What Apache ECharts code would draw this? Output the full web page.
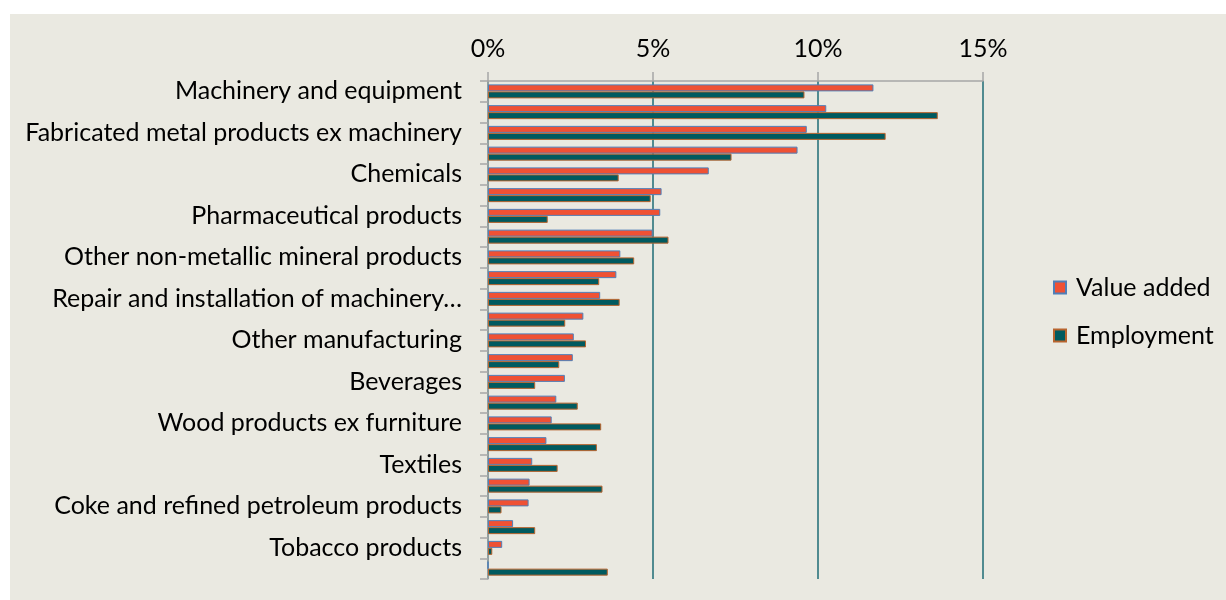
<!DOCTYPE html>
<html>
<head>
<meta charset="utf-8">
<script src="https://cdn.jsdelivr.net/npm/echarts@6/dist/echarts.min.js"></script>
<style>
  html, body { margin: 0; padding: 0; background: #fff; }
  #chart { position: absolute; left: 10px; top: 14px; width: 1216px; height: 586px; }
</style>
</head>
<body>
<div id="chart"></div>
<script>
// categories top to bottom; only every other one is labelled in the original
const categories = [
  "Machinery and equipment",
  "Food products",
  "Fabricated metal products ex machinery",
  "Motor vehicles",
  "Chemicals",
  "Electrical equipment",
  "Pharmaceutical products",
  "Rubber and plastics products",
  "Other non-metallic mineral products",
  "Computer, electronic and optical products",
  "Repair and installation of machinery and equipment",
  "Basic metals",
  "Other manufacturing",
  "Paper products",
  "Beverages",
  "Printing",
  "Wood products ex furniture",
  "Other transport equipment",
  "Textiles",
  "Furniture",
  "Coke and refined petroleum products",
  "Wearing apparel",
  "Tobacco products",
  "Leather products"
];

// shares in %
const valueAdded = [
  11.68, 10.25, 9.66, 9.38, 6.69, 5.26, 5.22, 4.99, 4.01, 3.89, 3.40, 2.89,
  2.60, 2.57, 2.33, 2.07, 1.93, 1.77, 1.34, 1.26, 1.23, 0.76, 0.43, 0
];
const employment = [
  9.59, 13.63, 12.05, 7.38, 3.96, 4.93, 1.81, 5.47, 4.43, 3.37, 3.99, 2.34,
  2.97, 2.16, 1.43, 2.72, 3.43, 3.30, 2.11, 3.47, 0.41, 1.43, 0.13, 3.63
];

const seriesNames = ["Value added", "Employment"];
const xTicks = [0, 5, 10, 15];

const font = "Lato";
const fontSize = 25;

// long names get cut at a word boundary, like the original does
function shortName(name) {
  if (name.length <= 40) return name;
  let out = "";
  for (const w of name.split(" ")) {
    const next = out ? out + " " + w : w;
    if (next.length > 37) break;
    out = next;
  }
  return out + "…";
}

const chart = echarts.init(document.getElementById("chart"));

chart.setOption({
  backgroundColor: "#EAE9E1",
  animation: false,
  textStyle: { fontFamily: font },
  grid: {
    left: 478,
    top: 67,
    width: 495,
    height: 498,
    containLabel: false
  },
  legend: {
    orient: "vertical",
    left: 1038,
    top: 256,
    icon: "rect",
    itemWidth: 12,
    itemHeight: 12,
    itemGap: 23,
    textStyle: {
      fontSize: fontSize,
      color: "#000",
      fontFamily: font,
      lineHeight: 25,
      padding: [0, 0, 0, 5]
    },
    data: seriesNames
  },
  xAxis: {
    type: "value",
    position: "top",
    min: xTicks[0],
    max: xTicks[xTicks.length - 1],
    interval: 5,
    axisLine: { show: true, lineStyle: { color: "#A6A6A6", width: 1.5 } },
    axisTick: { show: true, length: 9, lineStyle: { color: "#A6A6A6", width: 1.5 } },
    axisLabel: {
      margin: 20,
      fontSize: fontSize,
      color: "#000",
      fontFamily: font,
      formatter: v => v + "%"
    },
    splitLine: { show: true, lineStyle: { color: "#1E6B74", width: 1.5 } }
  },
  yAxis: {
    type: "category",
    inverse: true,
    data: categories,
    axisLine: { show: true, lineStyle: { color: "#A6A6A6", width: 1.5 } },
    axisTick: { show: true, length: 8, interval: 0, lineStyle: { color: "#A6A6A6", width: 1.5 } },
    axisLabel: {
      interval: 1,
      margin: 26,
      fontSize: fontSize,
      color: "#000",
      fontFamily: font,
      formatter: shortName
    }
  },
  series: [
    {
      name: seriesNames[0],
      type: "bar",
      data: valueAdded,
      barWidth: 7,
      barGap: "0%",
      itemStyle: { color: "#EF5134", borderColor: "#4F7FB8", borderWidth: 1 }
    },
    {
      name: seriesNames[1],
      type: "bar",
      data: employment,
      barWidth: 7,
      barGap: "0%",
      itemStyle: { color: "#005A5F", borderColor: "#B8642E", borderWidth: 1 }
    }
  ]
});
</script>
</body>
</html>
